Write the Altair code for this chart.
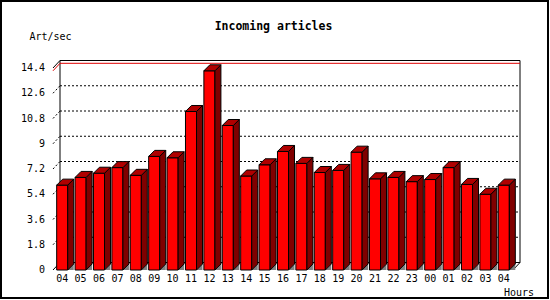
import altair as alt
import pandas as pd

# ---- data ----
hours = ["04", "05", "06", "07", "08", "09", "10", "11", "12", "13", "14", "15", "16",
         "17", "18", "19", "20", "21", "22", "23", "00", "01", "02", "03", "04"]
values = [6.05, 6.6, 6.9, 7.3, 6.75, 8.1, 8.0, 11.3, 14.2, 10.3, 6.7, 7.5, 8.45,
          7.6, 6.95, 7.1, 8.4, 6.5, 6.6, 6.3, 6.45, 7.3, 6.1, 5.4, 6.05]
y_ticks = [0, 1.8, 3.6, 5.4, 7.2, 9, 10.8, 12.6, 14.4]
y_tick_labels = ["0", "1.8", "3.6", "5.4", "7.2", "9", "10.8", "12.6", "14.4"]
title_text = "Incoming articles"
y_title = "Art/sec"
x_title = "Hours"

# ---- layout / style ----
W, H = 460, 202
n = len(values)
y_top = y_ticks[-1]
px_x = W / n
px_y = H / y_top
bdx, bdy = 6 / px_x, 6 / px_y       # bar depth in data units
wdx, wdy = 7 / px_x, 7.5 / px_y     # wall depth in data units
bar_l, bar_r = 0.2, 0.8
FONT = "DejaVu Sans Mono"

xs = alt.Scale(domain=[0, n], nice=False, zero=False)
ys = alt.Scale(domain=[0, y_top], nice=False, zero=False)

# ---- tables built from the lists ----
front = pd.DataFrame({
    "l": [i + bar_l for i in range(n)],
    "r": [i + bar_r for i in range(n)],
    "v": values,
})
side_rows, top_rows, shadow_rows = [], [], []
for i, v in enumerate(values):
    side_rows += [dict(bar=i, x=i + bar_r, y=v, y2=0.0),
                  dict(bar=i, x=i + bar_r + bdx, y=v + bdy, y2=bdy)]
    top_rows += [dict(bar=i, y=v, x=i + bar_l, x2=i + bar_r),
                 dict(bar=i, y=v + bdy, x=i + bar_l + bdx, x2=i + bar_r + bdx)]
    shadow_rows += [dict(bar=i, x=i + bar_r, y=0.0, y2=0.0),
                    dict(bar=i, x=i + bar_r + bdx, y=bdy, y2=0.0)]
side = pd.DataFrame(side_rows)
top = pd.DataFrame(top_rows)
shadow = pd.DataFrame(shadow_rows)

walls = pd.DataFrame([
    dict(x=0, y=y_top, x2=wdx, y2=y_top + wdy),
    dict(x=wdx, y=y_top + wdy, x2=n + wdx, y2=y_top + wdy),
    dict(x=n + wdx, y=y_top + wdy, x2=n + wdx, y2=wdy),
    dict(x=n + wdx, y=wdy, x2=n, y2=0),
    dict(x=wdx, y=y_top + wdy, x2=wdx, y2=wdy),
    dict(x=0, y=0, x2=wdx, y2=wdy),
    dict(x=wdx, y=wdy, x2=n + wdx, y2=wdy),
])
grid_rows = []
for t in y_ticks[1:-1]:
    grid_rows += [dict(x=wdx, y=t + wdy, x2=n + wdx, y2=t + wdy),
                  dict(x=0, y=t, x2=wdx, y2=t + wdy)]
grid = pd.DataFrame(grid_rows)

vmax = max(values)
maxline = pd.DataFrame([dict(o=0, x=0, y=vmax), dict(o=1, x=wdx, y=vmax + wdy),
                        dict(o=2, x=n + wdx, y=vmax + wdy)])
labels = pd.DataFrame({"c": [i + 0.5 for i in range(n)], "h": hours})
ylabels = pd.DataFrame({"t": y_ticks, "lab": y_tick_labels})
one = pd.DataFrame({"a": [0]})

# ---- layers ----
frame = alt.Chart(one).mark_rect(fillOpacity=0, stroke="black", strokeWidth=2).encode(
    x=alt.value(-52), x2=alt.value(495), y=alt.value(-67), y2=alt.value(230))

wall_l = alt.Chart(walls).mark_rule(color="black", strokeWidth=1).encode(
    x=alt.X("x:Q", scale=xs, axis=None), x2="x2:Q",
    y=alt.Y("y:Q", scale=ys, axis=None), y2="y2:Q")

grid_l = alt.Chart(grid).mark_rule(color="black", strokeWidth=1, strokeDash=[2, 2]).encode(
    x=alt.X("x:Q", scale=xs, axis=None), x2="x2:Q",
    y=alt.Y("y:Q", scale=ys, axis=None), y2="y2:Q")

max_l = alt.Chart(maxline).mark_line(color="#e00000", strokeWidth=1).encode(
    x=alt.X("x:Q", scale=xs, axis=None),
    y=alt.Y("y:Q", scale=ys, axis=None), order="o:Q")

shadow_l = alt.Chart(shadow).mark_area(color="#808080").encode(
    x=alt.X("x:Q", scale=xs, axis=None),
    y=alt.Y("y:Q", scale=ys, axis=None), y2="y2:Q", detail="bar:N")

front_l = alt.Chart(front).mark_rect(fill="#ff0000", stroke="black", strokeWidth=1).encode(
    x=alt.X("l:Q", scale=xs, axis=alt.Axis(
        values=list(range(n + 1)), labels=False, title=None, ticks=True, tickSize=5,
        tickColor="black", domainColor="black", grid=False)),
    x2="r:Q",
    y=alt.Y("v:Q", scale=ys, axis=alt.Axis(
        values=y_ticks, labels=False, title=None, tickSize=5, tickColor="black",
        domainColor="black", grid=False)),
    y2=alt.datum(0))

side_l = alt.Chart(side).mark_area(fill="#800000", stroke="black", strokeWidth=1).encode(
    x=alt.X("x:Q", scale=xs, axis=None),
    y=alt.Y("y:Q", scale=ys, axis=None), y2="y2:Q", detail="bar:N")

top_l = alt.Chart(top).mark_area(orient="horizontal", fill="#b00000", stroke="black",
                                  strokeWidth=1).encode(
    y=alt.Y("y:Q", scale=ys, axis=None),
    x=alt.X("x:Q", scale=xs, axis=None), x2="x2:Q", detail="bar:N")

hour_l = alt.Chart(labels).mark_text(font=FONT, fontSize=10, color="black",
                                      baseline="middle", align="center").encode(
    x=alt.X("c:Q", scale=xs, axis=None), y=alt.value(H + 9), text="h:N")

ylab_l = alt.Chart(ylabels).mark_text(font=FONT, fontSize=10, color="black",
                                       baseline="middle", align="right").encode(
    y=alt.Y("t:Q", scale=ys, axis=None), x=alt.value(-8), text="lab:N")

title_l = alt.Chart(one).mark_text(text=title_text, font=FONT, fontSize=11.5,
                                    fontWeight="bold", color="black",
                                    align="center", baseline="middle").encode(
    x=alt.value(220.5), y=alt.value(-41))
ytitle_l = alt.Chart(one).mark_text(text=y_title, font=FONT, fontSize=10, color="black",
                                     align="center", baseline="middle").encode(
    x=alt.value(-2.5), y=alt.value(-31.5))
xtitle_l = alt.Chart(one).mark_text(text=x_title, font=FONT, fontSize=10, color="black",
                                     align="center", baseline="middle").encode(
    x=alt.value(466), y=alt.value(224.5))

chart = alt.layer(
    frame, wall_l, grid_l, max_l, shadow_l, front_l, side_l, top_l,
    hour_l, ylab_l, title_l, ytitle_l, xtitle_l
).properties(
    width=W, height=H,
    autosize=alt.AutoSizeParams(type="none"),
    padding={"left": 53, "top": 68, "right": 37, "bottom": 30},
    background="white",
).configure_view(strokeWidth=0)

chart.save("out.html", embed_options={"renderer": "svg", "actions": False})
